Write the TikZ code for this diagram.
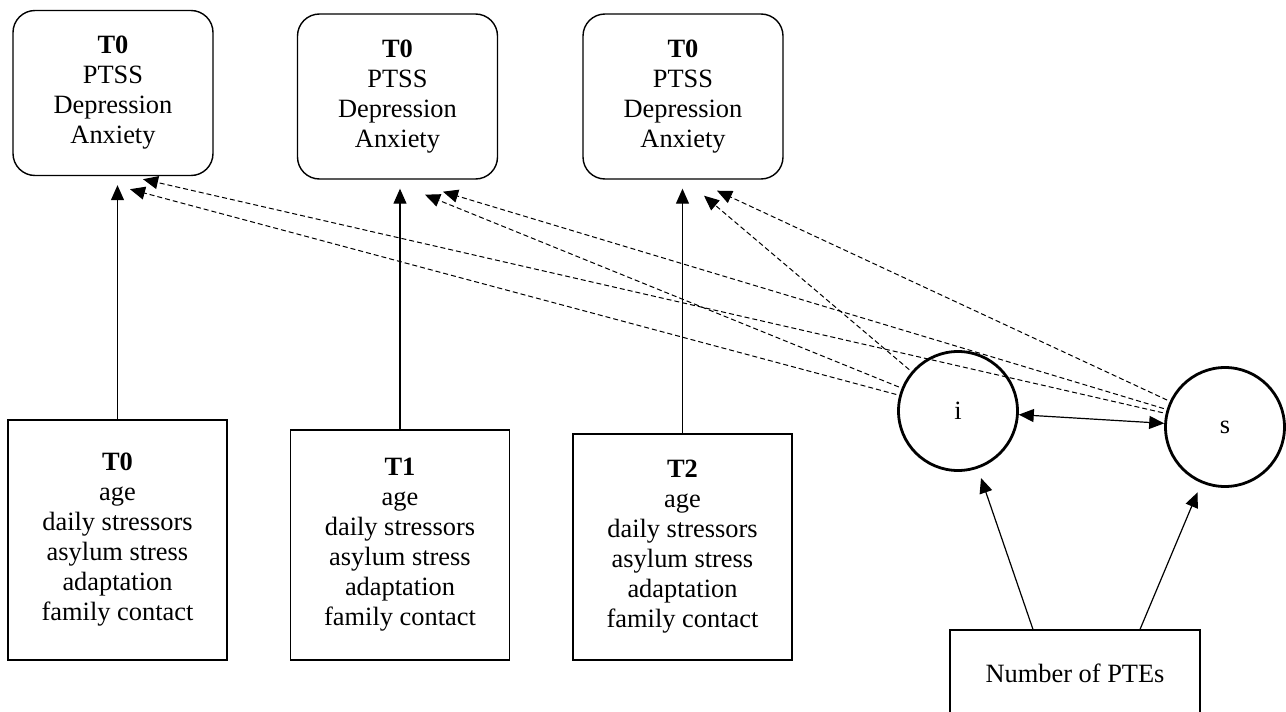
\documentclass[tikz,border=0pt]{standalone}
\usepackage{fontspec}
\setmainfont{Liberation Serif}
\usetikzlibrary{arrows.meta, calc}
\tikzset{
  outcome/.style   = {draw, rectangle, rounded corners=11pt, align=center,
                      line width=0.7pt, inner sep=0pt,
                      minimum width=100pt, minimum height=82.5pt},
  predictor/.style = {draw, rectangle, align=center, line width=0.6pt,
                      inner sep=0pt, minimum width=109.5pt},
  latent/.style    = {draw, circle, line width=1.4pt, inner sep=0pt,
                      minimum size=59.5pt},
  tip/.style       = {Triangle[length=7.5pt, width=6.5pt]},
  arr/.style       = {-{Triangle[length=7.5pt, width=6.5pt]}, line width=0.6pt},
  darr/.style      = {{Triangle[length=7.5pt, width=6.5pt]}-{Triangle[length=7.5pt, width=6.5pt]},
                      line width=0.6pt},
  dasharr/.style   = {-{Triangle[length=7.5pt, width=6.5pt]}, line width=0.5pt,
                      dash pattern=on 2.5pt off 1.5pt, shorten <=1.5pt}
}

\begin{document}
\begin{tikzpicture}[x=0.5pt, y=-0.5pt, font=\fontsize{13.2}{15}\selectfont]

  \clip (0,0) rectangle (1286,712);

  % ── Outcomes (top row) ────────────────────────────────────────────────────
  \node[outcome] (A0) at (113,93)    {\textbf{T0}\\PTSS\\Depression\\Anxiety};
  \node[outcome] (A1) at (397.5,96.5) {\textbf{T0}\\PTSS\\Depression\\Anxiety};
  \node[outcome] (A2) at (683,96.5)  {\textbf{T0}\\PTSS\\Depression\\Anxiety};

  % ── Time-varying predictors (bottom row) ──────────────────────────────────
  \node[predictor, minimum height=120pt] (B0) at (117.5,540)
        {\textbf{T0}\\age\\daily stressors\\asylum stress\\adaptation\\family contact};
  \node[predictor, minimum height=115pt] (B1) at (400,545)
        {\textbf{T1}\\age\\daily stressors\\asylum stress\\adaptation\\family contact};
  \node[predictor, minimum height=113pt] (B2) at (682.5,547)
        {\textbf{T2}\\age\\daily stressors\\asylum stress\\adaptation\\family contact};

  % ── Growth factors ────────────────────────────────────────────────────────
  \node[latent] (I) at (958,411)  {i};
  \node[latent] (S) at (1225,427) {s};
  \node[draw, rectangle, line width=0.6pt, minimum width=125pt, minimum height=43pt]
        (PTE) at (1075,673) {Number of PTEs};

  % ── Arrow targets below the outcome boxes ─────────────────────────────────
  \coordinate (A0i) at ($(A0.south)+(17,13)$);
  \coordinate (A0s) at ($(A0.south)+(30,3)$);
  \coordinate (A1i) at ($(A1.south)+(27.5,15)$);
  \coordinate (A1s) at ($(A1.south)+(45.5,12)$);
  \coordinate (A2i) at ($(A2.south)+(21,16)$);
  \coordinate (A2s) at ($(A2.south)+(34,11)$);
  \coordinate (PTEi) at ($(PTE.north)+(-42,0)$);
  \coordinate (PTEs) at ($(PTE.north)+(65,0)$);

  % ── Connections ───────────────────────────────────────────────────────────

  % predictors → outcomes
  \draw[arr, shorten >=4.5pt] (B0.north) -- (B0.north |- A0.south);
  \draw[arr, shorten >=4.5pt] (B1.north) -- (B1.north |- A1.south);
  \draw[arr, shorten >=4.5pt] (B2.north) -- (B2.north |- A2.south);

  % growth factors → outcomes
  \draw[dasharr] (I) -- (A0i);
  \draw[dasharr] (I) -- (A1i);
  \draw[dasharr] (I) -- (A2i);
  \draw[dasharr] (S) -- (A0s);
  \draw[dasharr] (S) -- (A1s);
  \draw[dasharr] (S) -- (A2s);

  % covariance i <-> s
  \draw[darr] (I) -- (S);

  % PTEs → growth factors
  \draw[arr, shorten >=5pt] (PTEi) -- (I);
  \draw[arr, shorten >=5pt] (PTEs) -- (S);

\end{tikzpicture}
\end{document}
